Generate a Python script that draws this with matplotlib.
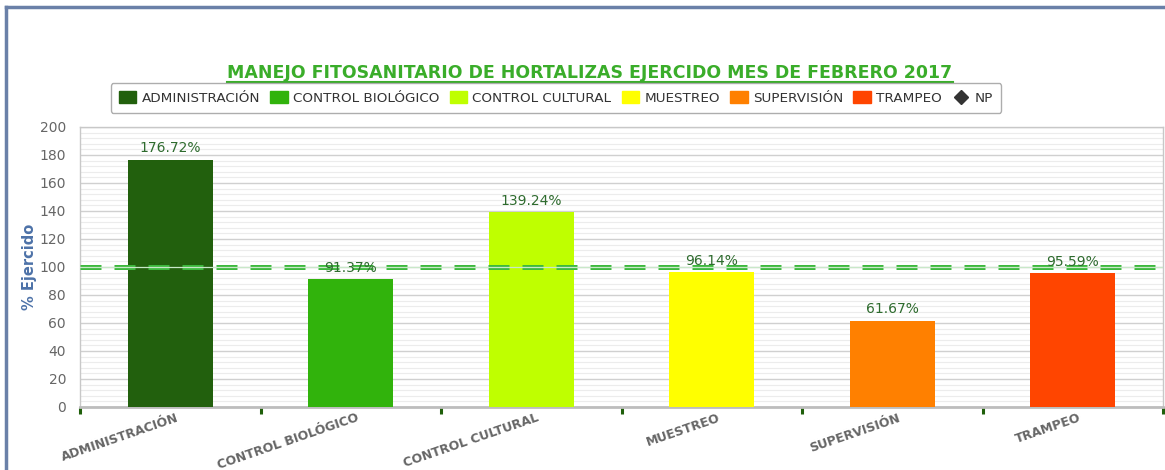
import matplotlib
matplotlib.use("Agg")
import matplotlib.pyplot as plt
from matplotlib.patches import Patch
from matplotlib.lines import Line2D
from matplotlib.ticker import MultipleLocator, FixedLocator
import numpy as np

# ── data ──────────────────────────────────────────────────────────────────────
categories = ["ADMINISTRACIÓN", "CONTROL BIOLÓGICO", "CONTROL CULTURAL",
              "MUESTREO", "SUPERVISIÓN", "TRAMPEO"]
values = [176.72, 91.37, 139.24, 96.14, 61.67, 95.59]
colors = ["#22600d", "#31b30c", "#bfff00", "#ffff00", "#ff8000", "#ff4500"]
target = 100
title = "MANEJO FITOSANITARIO DE HORTALIZAS EJERCIDO MES DE FEBRERO 2017"

# ── figure ────────────────────────────────────────────────────────────────────
W, H = 1165, 470
fig = plt.figure(figsize=(W / 100, H / 100), dpi=100)
ax = fig.add_axes([80 / W, 1 - 407 / H, (1163 - 80) / W, (407 - 127) / H])

x = np.arange(len(categories))
ax.bar(x, values, width=0.47, color=colors, zorder=3)

ax.set_xlim(-0.5, len(categories) - 0.5)
ax.set_ylim(0, 200)

# grid
ax.yaxis.set_major_locator(MultipleLocator(20))
ax.yaxis.set_minor_locator(MultipleLocator(4))
ax.grid(which="major", axis="y", color="#d0d0d0", linewidth=1.0, zorder=1)
ax.grid(which="minor", axis="y", color="#ececec", linewidth=0.8, zorder=0)
ax.tick_params(axis="y", which="both", length=0, labelsize=10,
               labelcolor="#666666", pad=10)

# x ticks: labels at centers, dark green ticks at boundaries
ax.set_xticks(x + 0.03)
ax.set_xticklabels(categories, rotation=19, ha="right", rotation_mode="anchor",
                   fontweight="bold", color="#666666", fontsize=9)
ax.tick_params(axis="x", which="major", length=0, pad=3)
ax.xaxis.set_minor_locator(FixedLocator(np.arange(-0.5, len(categories), 1.0)))
ax.tick_params(axis="x", which="minor", length=5, width=2.2, color="#1f5f0a")

for side in ("top", "right", "left"):
    ax.spines[side].set_color("#c8c8c8")
    ax.spines[side].set_linewidth(1.0)
ax.spines["bottom"].set_color("#bdbdbd")
ax.spines["bottom"].set_linewidth(2)

# 100% target line: double dashed green
ax.axhline(target, color="#3db83d", linewidth=3.6, dashes=(4.2, 2.6), zorder=4)
ax.axhline(target, color="#c8e8c8", linewidth=0.9, zorder=4)

# data labels
for xi, v in zip(x, values):
    ax.annotate(f"{v:.2f}%", (xi, v), xytext=(0, 3), textcoords="offset points",
                ha="center", va="bottom", fontsize=10, color="#2e6b2e", zorder=5)

ax.set_ylabel("% Ejercido", color="#4d72a8", fontweight="bold", fontsize=10.5,
              labelpad=2)

# legend
handles = [Patch(facecolor=c, edgecolor=c, label=n) for c, n in zip(colors, categories)]
handles.append(Line2D([], [], marker="D", color="#333333", linestyle="none",
                      markersize=7, label="NP"))
leg = fig.legend(handles=handles, loc="center", bbox_to_anchor=(556 / W, 1 - 98 / H),
                 ncol=7, frameon=True, fancybox=True, edgecolor="#999999",
                 fontsize=9.7, handlelength=1.3, handleheight=1.0,
                 handletextpad=0.4, columnspacing=0.75, borderpad=0.6)
for t in leg.get_texts():
    t.set_color("#333333")
leg.get_frame().set_linewidth(1.0)

# title with underline
ttl = fig.text(590 / W, 1 - 73 / H, title, ha="center", va="center",
               fontsize=12.5, fontweight="bold", color="#3aad2a")
fig.canvas.draw()
bb = ttl.get_window_extent().transformed(fig.transFigure.inverted())
fig.add_artist(Line2D([bb.x0, bb.x1], [bb.y0 + 0.001, bb.y0 + 0.001],
                      color="#3aad2a", linewidth=1.5, transform=fig.transFigure))

# outer border (top and left)
border = "#6a80a8"
fig.add_artist(Line2D([6 / W, 1], [1 - 7 / H, 1 - 7 / H], color=border,
                      linewidth=2.5, transform=fig.transFigure))
fig.add_artist(Line2D([6 / W, 6 / W], [0, 1 - 7 / H], color=border,
                      linewidth=2.5, transform=fig.transFigure))

fig.savefig("out.png", dpi=100)
